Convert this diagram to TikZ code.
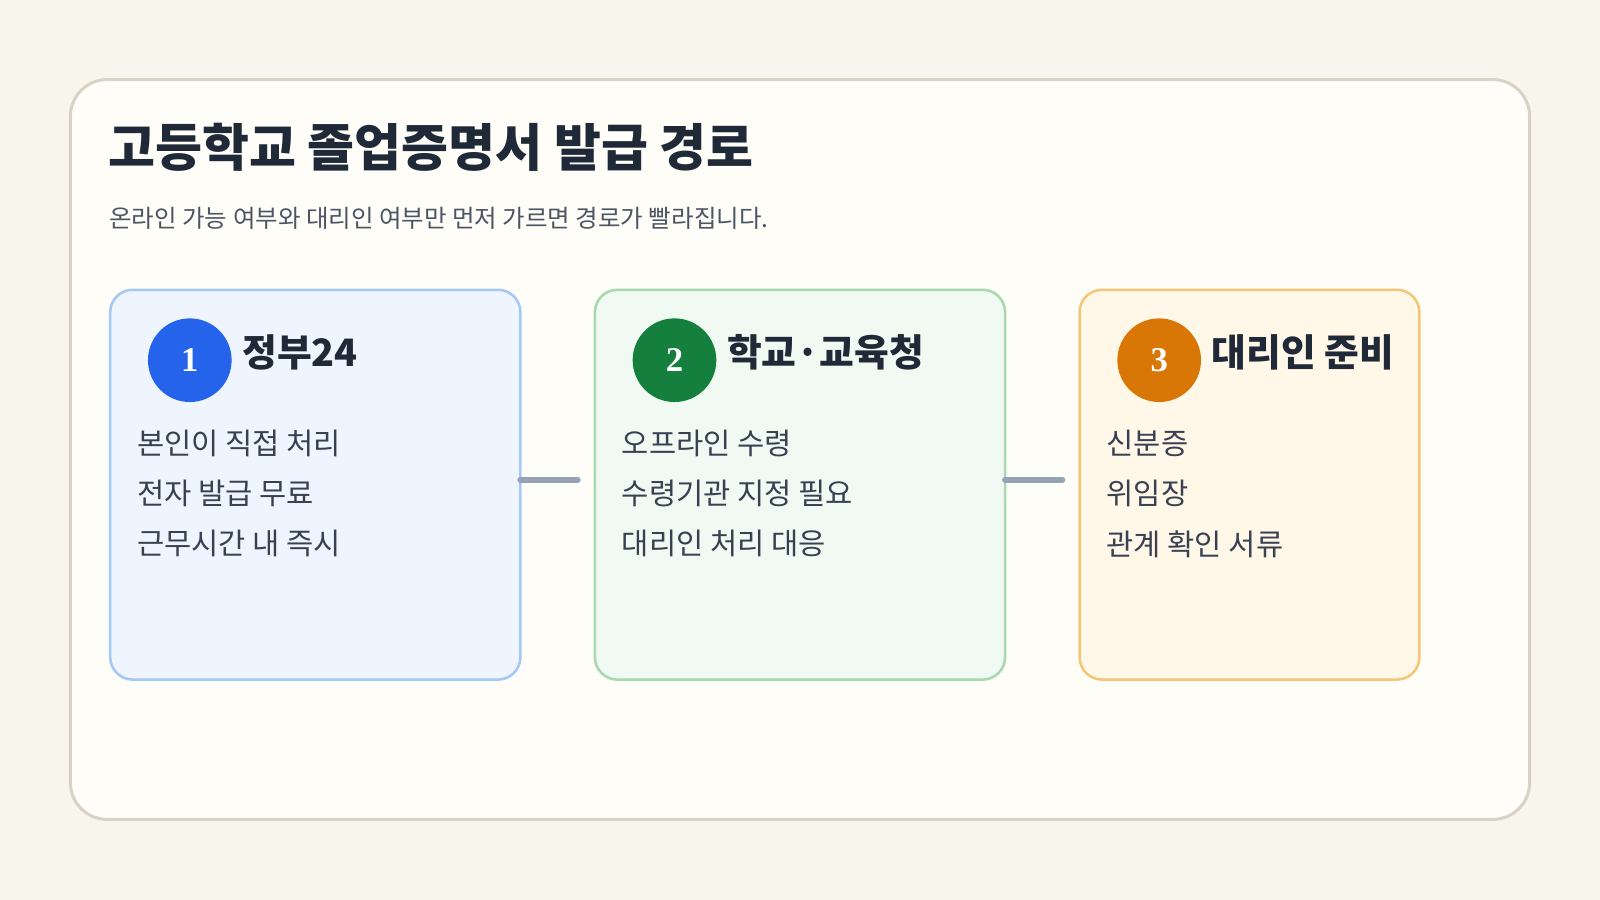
\documentclass[tikz,border=0pt]{standalone}
\usepackage{fontspec}
\setmainfont{Noto Sans CJK KR}
\newfontfamily\numfont{Liberation Serif}
\definecolor{bg}{HTML}{F7F5EC}
\definecolor{cardbg}{HTML}{FEFDF8}
\definecolor{cardln}{HTML}{D9D3C5}
\definecolor{ttl}{HTML}{1F2937}
\definecolor{subc}{HTML}{4B5563}
\definecolor{itc}{HTML}{374151}
\definecolor{f1}{HTML}{EEF5FF}\definecolor{l1}{HTML}{A7C8F5}
\definecolor{f2}{HTML}{F0FAF2}\definecolor{l2}{HTML}{A7D8AE}
\definecolor{f3}{HTML}{FFF7E8}\definecolor{l3}{HTML}{F5C677}
\definecolor{c1}{HTML}{2563EB}\definecolor{c2}{HTML}{15803D}\definecolor{c3}{HTML}{D97706}
\definecolor{cn}{HTML}{94A3B8}
\begin{document}
\begin{tikzpicture}[x=1pt,y=-1pt,
  card/.style={rounded corners=22pt,line width=2.5pt},
  num/.style={circle,minimum size=82pt,inner sep=0pt,text=white,font=\numfont\bfseries\fontsize{34}{34}\selectfont},
  head/.style={anchor=west,text=ttl,font=\bfseries\fontsize{37}{40}\selectfont},
  item/.style={anchor=west,text=itc,font=\fontsize{29}{32}\selectfont},
  conn/.style={line width=6pt,line cap=round,draw=cn}]
\useasboundingbox (0,0) rectangle (1568,882);
\fill[bg] (0,0) rectangle (1568,882);
\draw[fill=cardbg, draw=cardln, line width=3pt, rounded corners=36pt] (69,78) rectangle (1499,803);
\node[anchor=base west,inner sep=0pt,text=ttl,font=\bfseries\fontsize{50}{54}\selectfont] (title) at (106,163) {고등학교 졸업증명서 발급 경로};
\node[anchor=base west,inner sep=0pt,text=subc,font=\fontsize{24}{28}\selectfont] (sub) at (107,223) {온라인 가능 여부와 대리인 여부만 먼저 가르면 경로가 빨라집니다.};
\draw[card,fill=f1,draw=l1] (108,284) rectangle (510,666);
\draw[card,fill=f2,draw=l2] (583,284) rectangle (985,666);
\draw[card,fill=f3,draw=l3] (1058,284) rectangle (1391,666);
\coordinate (a1) at (510,470); \coordinate (a2) at (566,470);
\coordinate (b1) at (985,470); \coordinate (b2) at (1041,470);
\draw[conn] (a1) -- (a2);
\draw[conn] (b1) -- (b2);
\node[num,fill=c1] (n1) at (186,353) {1};
\node[num,fill=c2] (n2) at (661,353) {2};
\node[num,fill=c3] (n3) at (1136,353) {3};
\node[head] (h1) at (234,345) {정부24};
\node[head] (h2) at (709,345) {학교·교육청};
\node[head] (h3) at (1184,345) {대리인 준비};
\node[item] (a1t) at (131,435) {본인이 직접 처리};
\node[item] (a2t) at (131,484) {전자 발급 무료};
\node[item] (a3t) at (131,533) {근무시간 내 즉시};
\node[item] (b1t) at (606,435) {오프라인 수령};
\node[item] (b2t) at (606,484) {수령기관 지정 필요};
\node[item] (b3t) at (606,533) {대리인 처리 대응};
\node[item] (c1t) at (1081,435) {신분증};
\node[item] (c2t) at (1081,484) {위임장};
\node[item] (c3t) at (1081,533) {관계 확인 서류};
\end{tikzpicture}
\end{document}
